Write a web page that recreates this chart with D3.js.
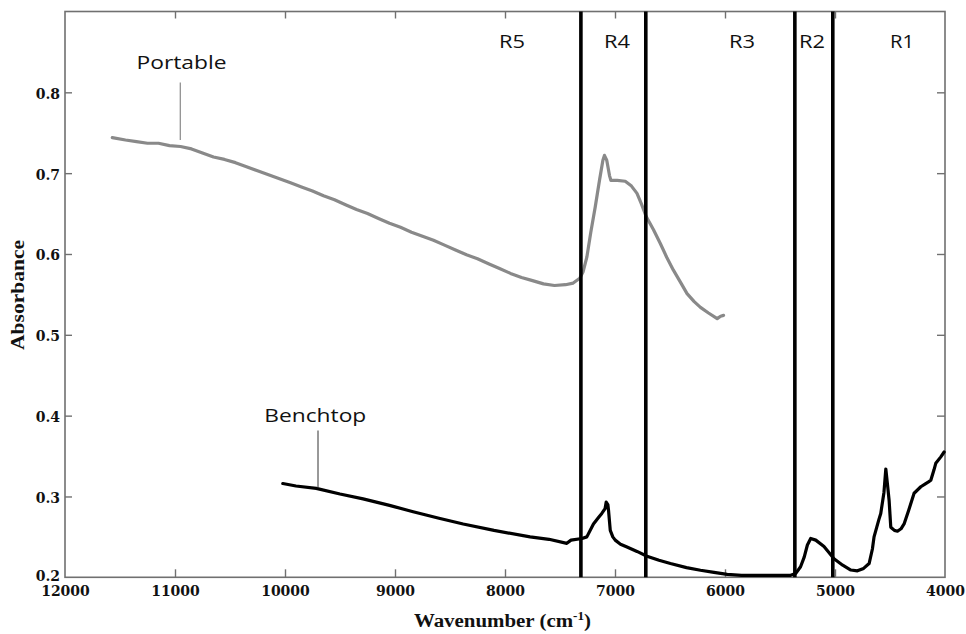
<!DOCTYPE html>
<html>
<head>
<meta charset="utf-8">
<script src="https://cdn.jsdelivr.net/npm/d3@7"></script>
<style>
  html, body { margin: 0; padding: 0; background: #fff; }
  svg { display: block; }
</style>
</head>
<body>
<svg id="chart" width="966" height="634"></svg>
<script>
// ---- Data ----
const portableWavenumber = [11570,11450,11350,11250,11150,11050,10950,10850,10750,10650,10550,10450,10350,10250,10150,10050,9950,9850,9750,9650,9550,9450,9350,9250,9150,9050,8950,8850,8750,8650,8550,8450,8350,8250,8150,8050,7950,7850,7750,7650,7550,7450,7380,7320,7290,7256,7220,7180,7140,7110,7096,7075,7050,7037,6980,6907,6850,6800,6760,6715,6650,6588,6530,6469,6400,6345,6280,6223,6150,6071,6040,6013];
const portableAbsorbance = [0.744,0.741,0.739,0.737,0.737,0.734,0.733,0.730,0.725,0.720,0.717,0.713,0.708,0.703,0.698,0.693,0.688,0.683,0.678,0.672,0.667,0.661,0.655,0.650,0.644,0.638,0.633,0.627,0.622,0.617,0.611,0.605,0.599,0.594,0.588,0.582,0.576,0.571,0.567,0.563,0.561,0.562,0.564,0.570,0.578,0.596,0.627,0.658,0.692,0.716,0.722,0.716,0.697,0.691,0.691,0.690,0.684,0.675,0.662,0.646,0.630,0.613,0.596,0.580,0.564,0.551,0.541,0.534,0.527,0.520,0.523,0.524];

const benchtopWavenumber = [10020,9900,9716,9500,9290,9050,8835,8600,8380,8100,7772,7600,7438,7400,7300,7256,7196,7150,7120,7090,7080,7065,7059,7043,7020,6998,6950,6891,6800,6709,6600,6496,6350,6223,6100,5980,5850,5676,5500,5403,5358,5313,5280,5251,5221,5175,5100,5009,4930,4856,4796,4740,4690,4660,4645,4600,4584,4555,4538,4523,4508,4493,4460,4432,4400,4372,4330,4281,4220,4175,4150,4129,4100,4084,4038,4008];
const benchtopAbsorbance = [0.316,0.313,0.310,0.303,0.297,0.289,0.281,0.273,0.266,0.258,0.250,0.247,0.242,0.246,0.248,0.250,0.266,0.274,0.279,0.285,0.293,0.290,0.283,0.258,0.250,0.246,0.241,0.2375,0.232,0.226,0.221,0.217,0.212,0.2087,0.206,0.2037,0.2025,0.2025,0.2025,0.2025,0.2046,0.213,0.225,0.240,0.248,0.246,0.238,0.223,0.215,0.209,0.208,0.211,0.217,0.235,0.250,0.272,0.279,0.305,0.334,0.315,0.295,0.262,0.258,0.257,0.260,0.266,0.283,0.304,0.312,0.316,0.318,0.320,0.333,0.341,0.349,0.355];

const regionBoundaries = [7310, 6720, 5365, 5020];
const regionNames = ["R5", "R4", "R3", "R2", "R1"];
const regionLabelPositions = [7936, 6982, 5845, 5209, 4391];

const xTickValues = [12000, 11000, 10000, 9000, 8000, 7000, 6000, 5000, 4000];
const yTickValues = [0.2, 0.3, 0.4, 0.5, 0.6, 0.7, 0.8];

const seriesLabels = [
  { name: "Portable", wn: 10952 },
  { name: "Benchtop", wn: 9700 }
];

// ---- Layout ----
const svg = d3.select("#chart");
const plotLeft = 65, plotRight = 945, plotTop = 11.5, plotBottom = 577.3;
const frameColor = "#707070";

const x = d3.scaleLinear().domain([12000, 4000]).range([plotLeft, plotRight]);
const y = d3.scaleLinear().domain([0.2, 0.9]).range([plotBottom, plotTop]);

// Frame
svg.append("rect")
  .attr("x", plotLeft).attr("y", plotTop)
  .attr("width", plotRight - plotLeft).attr("height", plotBottom - plotTop)
  .attr("fill", "none").attr("stroke", frameColor).attr("stroke-width", 1.6);

function styleAxis(g, showText) {
  g.select(".domain").remove();
  g.selectAll(".tick line").attr("stroke", frameColor).attr("stroke-width", 1.4);
  g.selectAll(".tick text")
    .attr("fill", "#111")
    .style("font-family", "'DejaVu Serif', serif")
    .style("font-weight", "bold")
    .style("font-size", "14px")
    .style("display", showText ? null : "none");
}

// Bottom axis
svg.append("g").attr("transform", `translate(0,${plotBottom})`)
  .call(d3.axisBottom(x).tickValues(xTickValues).tickSize(-8).tickPadding(9).tickFormat(d3.format("d")))
  .call(g => styleAxis(g, true))
  .call(g => g.selectAll(".tick line").filter(d => d === 12000 || d === 4000).remove());

// Top axis (ticks only)
svg.append("g").attr("transform", `translate(0,${plotTop})`)
  .call(d3.axisTop(x).tickValues(xTickValues).tickSize(-7))
  .call(g => styleAxis(g, false))
  .call(g => g.selectAll(".tick line").filter(d => d === 12000 || d === 4000).remove());

// Left axis
svg.append("g").attr("transform", `translate(${plotLeft},0)`)
  .call(d3.axisLeft(y).tickValues(yTickValues).tickSize(-7).tickPadding(5).tickFormat(d3.format(".1f")))
  .call(g => styleAxis(g, true))
  .call(g => g.selectAll(".tick text").attr("dy", d => d === 0.2 ? "0.2em" : "0.42em"))
  .call(g => g.selectAll(".tick line").filter(d => d === 0.2).remove());

// Right axis (ticks only)
svg.append("g").attr("transform", `translate(${plotRight},0)`)
  .call(d3.axisRight(y).tickValues(yTickValues).tickSize(-8))
  .call(g => styleAxis(g, false))
  .call(g => g.selectAll(".tick line").filter(d => d === 0.2).remove());

// Series
const line = d3.line().x(d => x(d[0])).y(d => y(d[1])).curve(d3.curveLinear);

const portable = portableWavenumber.map((w, i) => [w, portableAbsorbance[i]]);
const benchtop = benchtopWavenumber.map((w, i) => [w, benchtopAbsorbance[i]]);

svg.append("path").datum(portable)
  .attr("d", line).attr("fill", "none")
  .attr("stroke", "#898989").attr("stroke-width", 3.2)
  .attr("stroke-linejoin", "round").attr("stroke-linecap", "round");

svg.append("path").datum(benchtop)
  .attr("d", line).attr("fill", "none")
  .attr("stroke", "#000").attr("stroke-width", 3.2)
  .attr("stroke-linejoin", "round").attr("stroke-linecap", "round");

// Region boundary lines
svg.append("g").selectAll("line").data(regionBoundaries).join("line")
  .attr("x1", d => x(d)).attr("x2", d => x(d))
  .attr("y1", plotTop).attr("y2", plotBottom)
  .attr("stroke", "#000").attr("stroke-width", 3.6);

// Region labels
svg.append("g").selectAll("text").data(regionNames).join("text")
  .attr("x", (d, i) => x(regionLabelPositions[i]))
  .attr("y", 48)
  .attr("text-anchor", "middle")
  .attr("fill", "#111")
  .style("font-family", "'Open Sans', sans-serif")
  .style("font-size", "18px")
  .attr("textLength", d => d === "R1" ? 24 : 26)
  .attr("lengthAdjust", "spacingAndGlyphs")
  .text(d => d);

// Series annotations
// Portable
svg.append("text")
  .attr("x", 136.5).attr("y", 69)
  .attr("fill", "#111")
  .style("font-family", "'Open Sans', sans-serif")
  .style("font-size", "18.5px")
  .attr("textLength", 90).attr("lengthAdjust", "spacingAndGlyphs")
  .text(seriesLabels[0].name);
svg.append("line")
  .attr("x1", x(seriesLabels[0].wn)).attr("x2", x(seriesLabels[0].wn))
  .attr("y1", 82.5).attr("y2", 140)
  .attr("stroke", "#888").attr("stroke-width", 1.2);

// Benchtop
svg.append("text")
  .attr("x", 264.3).attr("y", 421.5)
  .attr("fill", "#111")
  .style("font-family", "'Open Sans', sans-serif")
  .style("font-size", "18.5px")
  .attr("textLength", 102).attr("lengthAdjust", "spacingAndGlyphs")
  .text(seriesLabels[1].name);
svg.append("line")
  .attr("x1", x(seriesLabels[1].wn)).attr("x2", x(seriesLabels[1].wn))
  .attr("y1", 430.5).attr("y2", 488)
  .attr("stroke", "#333").attr("stroke-width", 1);

// Axis titles
const xTitle = svg.append("text")
  .attr("transform", "translate(502.5,627) scale(1.1,1)")
  .attr("text-anchor", "middle")
  .attr("fill", "#111")
  .style("font-family", "'Liberation Serif', 'Times New Roman', serif")
  .style("font-weight", "bold")
  .style("font-size", "19px");
xTitle.append("tspan").text("Wavenumber (cm");
xTitle.append("tspan").attr("dy", -7).style("font-size", "12px").text("-1");
xTitle.append("tspan").attr("dy", 7).text(")");

svg.append("text")
  .attr("transform", "translate(24,295) rotate(-90)")
  .attr("text-anchor", "middle")
  .attr("fill", "#111")
  .style("font-family", "'Liberation Serif', 'Times New Roman', serif")
  .style("font-weight", "bold")
  .style("font-size", "19px")
  .attr("textLength", 110).attr("lengthAdjust", "spacingAndGlyphs")
  .text("Absorbance");
</script>
</body>
</html>
